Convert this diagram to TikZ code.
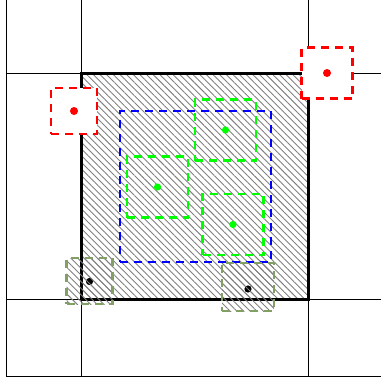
\documentclass[tikz,border=0pt]{standalone}
\usetikzlibrary{patterns.meta}
\definecolor{boxolive}{RGB}{130,160,100}
\begin{document}
\begin{tikzpicture}[x=0.5pt, y=-0.5pt,
    cell/.style={line width=0.5pt},
    sqbox/.style={inner sep=0pt, outer sep=0pt, line width=1.4pt, dash pattern=on 4pt off 3pt},
    hatch/.style={pattern={Lines[angle=-45, distance=2.35pt, line width=0.45pt]}, pattern color=gray}]
    \useasboundingbox (0,0) rectangle (381,380);
    \draw[cell] (6,0) -- (6,376) -- (381,376);
    \draw[cell] (81,0) -- (81,376);
    \draw[cell] (308,0) -- (308,376);
    \draw[cell] (6,73) -- (381,73);
    \draw[cell] (6,299) -- (381,299);
    \node[draw, hatch, inner sep=0pt, line width=1.5pt, minimum width=113.5pt, minimum height=113pt] (area) at (194.5,186) {};
    \node[sqbox, draw=blue, minimum size=75.5pt] (outer) at (195.5,186.5) {};
    \node[sqbox, draw=green, minimum size=30.5pt] (ga) at (225.5,130) {};
    \node[sqbox, draw=green, minimum size=30.5pt] (gb) at (157.5,187) {};
    \node[sqbox, draw=green, minimum size=30.5pt] (gc) at (233,224.5) {};
    \fill[green] (ga.center) circle (1.8pt);
    \fill[green] (gb.center) circle (1.8pt);
    \fill[green] (gc.center) circle (1.8pt);
    \fill[black] (89.5,281.5) circle (1.8pt);
    \fill[black] (248,289) circle (1.8pt);
    \node[sqbox, draw=boxolive, hatch, line width=1.2pt, minimum size=23pt] (oa) at (89.5,281) {};
    \node[sqbox, draw=boxolive, hatch, line width=1.2pt, minimum width=26pt, minimum height=24pt] (ob) at (248,287) {};
    \node[sqbox, draw=red, fill=white, minimum size=23pt] (ra) at (74,111) {};
    \node[sqbox, draw=red, fill=white, minimum size=25.5pt] (rb) at (327,73) {};
    \fill[red] (ra.center) circle (2pt);
    \fill[red] (rb.center) circle (2pt);
  \end{tikzpicture}
\end{document}
